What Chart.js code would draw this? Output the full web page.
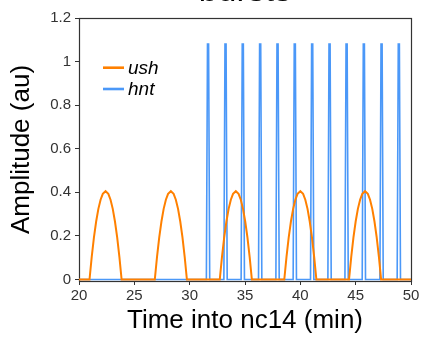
<!DOCTYPE html>
<html>
<head>
<meta charset="utf-8">
<script src="https://cdn.jsdelivr.net/npm/chart.js@4.4.0/dist/chart.umd.min.js"></script>
<style>
  html, body { margin: 0; padding: 0; background: #fff; }
  #wrap { width: 422px; height: 337px; position: relative; }
</style>
</head>
<body>
<div id="wrap"><canvas id="c" width="422" height="337"></canvas></div>
<script>
// ---- data ----
const titleText = "bursts";
const seriesNames = ["ush", "hnt"];
const xTickValues = [20, 25, 30, 35, 40, 45, 50];
const yTickValues = [0, 0.2, 0.4, 0.6, 0.8, 1, 1.2];
const yTickLabels = ["0", "0.2", "0.4", "0.6", "0.8", "1", "1.2"];

const ushTime = [20,
  20.95, 21.15, 21.35, 21.55, 21.75, 21.95, 22.15, 22.4, 22.65, 22.85, 23.05, 23.25, 23.45, 23.65, 23.85,
  26.85, 27.05, 27.25, 27.45, 27.65, 27.85, 28.05, 28.3, 28.55, 28.75, 28.95, 29.15, 29.35, 29.55, 29.75,
  32.72, 32.92, 33.12, 33.32, 33.52, 33.72, 33.92, 34.17, 34.42, 34.62, 34.82, 35.02, 35.22, 35.42, 35.62,
  38.55, 38.75, 38.95, 39.15, 39.35, 39.55, 39.75, 40.0, 40.25, 40.45, 40.65, 40.85, 41.05, 41.25, 41.45,
  44.4, 44.6, 44.8, 45.0, 45.2, 45.4, 45.6, 45.85, 46.1, 46.3, 46.5, 46.7, 46.9, 47.1, 47.3,
  50];
const ushAmp = [0,
  0, 0.104, 0.193, 0.266, 0.324, 0.366, 0.393, 0.405, 0.393, 0.366, 0.324, 0.266, 0.193, 0.104, 0,
  0, 0.104, 0.193, 0.266, 0.324, 0.366, 0.393, 0.405, 0.393, 0.366, 0.324, 0.266, 0.193, 0.104, 0,
  0, 0.104, 0.193, 0.266, 0.324, 0.366, 0.393, 0.405, 0.393, 0.366, 0.324, 0.266, 0.193, 0.104, 0,
  0, 0.104, 0.193, 0.266, 0.324, 0.366, 0.393, 0.405, 0.393, 0.366, 0.324, 0.266, 0.193, 0.104, 0,
  0, 0.104, 0.193, 0.266, 0.324, 0.366, 0.393, 0.405, 0.393, 0.366, 0.324, 0.266, 0.193, 0.104, 0,
  0];

const hntTime = [20,
  31.51, 31.61, 31.71, 31.81,
  33.09, 33.19, 33.29, 33.39,
  34.65, 34.75, 34.85, 34.95,
  36.22, 36.32, 36.42, 36.52,
  37.79, 37.89, 37.99, 38.09,
  39.35, 39.45, 39.55, 39.65,
  40.92, 41.02, 41.12, 41.22,
  42.49, 42.59, 42.69, 42.79,
  44.03, 44.13, 44.23, 44.33,
  45.59, 45.69, 45.79, 45.89,
  47.19, 47.29, 47.39, 47.49,
  48.75, 48.85, 48.95, 49.05,
  50];
const hntAmp = [0,
  0, 1.08, 1.08, 0,
  0, 1.08, 1.08, 0,
  0, 1.08, 1.08, 0,
  0, 1.08, 1.08, 0,
  0, 1.08, 1.08, 0,
  0, 1.08, 1.08, 0,
  0, 1.08, 1.08, 0,
  0, 1.08, 1.08, 0,
  0, 1.08, 1.08, 0,
  0, 1.08, 1.08, 0,
  0, 1.08, 1.08, 0,
  0, 1.08, 1.08, 0,
  0];

// ---- styling ----
const ORANGE = '#ff8000';
const BLUE = '#4b98f8';
const FONT = "'Liberation Sans', Arial, Helvetica, sans-serif";
const AXIS_COLOR = '#333333';

const framePlugin = {
  id: 'frame',
  beforeDatasetsDraw(chart) {
    const a = chart.chartArea, ctx = chart.ctx;
    ctx.save();
    ctx.strokeStyle = AXIS_COLOR;
    ctx.lineWidth = 1.2;
    ctx.strokeRect(a.left + 0.5, a.top + 0.5, a.right - a.left, a.bottom - a.top);
    ctx.restore();
  }
};

const legendPlugin = {
  id: 'insideLegend',
  afterDatasetsDraw(chart) {
    const ctx = chart.ctx;
    const a = chart.chartArea;
    const items = [
      { name: seriesNames[0], color: ORANGE, ly: 67.7, ty: 74 },
      { name: seriesNames[1], color: BLUE, ly: 89, ty: 94.5 }
    ];
    ctx.save();
    items.forEach(it => {
      ctx.strokeStyle = it.color;
      ctx.lineWidth = 2.6;
      ctx.beginPath();
      ctx.moveTo(a.left + 24, it.ly);
      ctx.lineTo(a.left + 45, it.ly);
      ctx.stroke();
      ctx.fillStyle = '#000';
      ctx.font = "italic 19px " + FONT;
      ctx.textBaseline = 'alphabetic';
      ctx.textAlign = 'left';
      ctx.fillText(it.name, a.left + 49, it.ty);
    });
    ctx.restore();
  }
};

const ushData = ushTime.map((t, i) => ({ x: t, y: ushAmp[i] }));
const hntData = hntTime.map((t, i) => ({ x: t, y: hntAmp[i] }));

new Chart(document.getElementById('c'), {
  type: 'line',
  data: {
    datasets: [
      { label: seriesNames[0], data: ushData, borderColor: ORANGE, borderWidth: 2, pointRadius: 0, tension: 0, fill: false },
      { label: seriesNames[1], data: hntData, borderColor: BLUE, borderWidth: 1.6, pointRadius: 0, tension: 0, fill: false }
    ]
  },
  options: {
    responsive: false,
    devicePixelRatio: 1,
    animation: false,
    layout: { padding: { left: 0, right: 11, top: 0, bottom: 0 } },
    plugins: {
      legend: { display: false },
      tooltip: { enabled: false },
      title: {
        display: true,
        text: titleText,
        fullSize: false,
        color: '#000',
        font: { family: FONT, size: 34, weight: 'normal', lineHeight: 1.2 },
        padding: { top: -29.2, bottom: 6.4 }
      }
    },
    scales: {
      x: {
        type: 'linear',
        min: 20, max: 50,
        afterFit(scale) { scale.height = 56; },
        afterBuildTicks(scale) { scale.ticks = xTickValues.map(v => ({ value: v })); },
        border: { display: false },
        grid: { display: true, drawOnChartArea: false, drawTicks: true, tickLength: 4, color: AXIS_COLOR, lineWidth: 1 },
        ticks: { color: AXIS_COLOR, padding: 2, font: { family: FONT, size: 15 }, maxRotation: 0, autoSkip: false,
                 callback: v => String(v) },
        title: { display: true, text: 'Time into nc14 (min)', color: '#000',
                 font: { family: FONT, size: 26, lineHeight: 1.2 }, padding: { top: 0, bottom: 0.5 } }
      },
      y: {
        type: 'linear',
        min: -0.007, max: 1.2,
        afterFit(scale) { scale.width = 79; },
        afterBuildTicks(scale) { scale.ticks = yTickValues.map(v => ({ value: v })); },
        border: { display: false },
        grid: { display: true, drawOnChartArea: false, drawTicks: true, tickLength: 4, color: AXIS_COLOR, lineWidth: 1 },
        ticks: { color: AXIS_COLOR, padding: 4, font: { family: FONT, size: 15 }, autoSkip: false,
                 callback: (v) => { const i = yTickValues.indexOf(v); return i >= 0 ? yTickLabels[i] : ''; } },
        title: { display: true, text: 'Amplitude (au)', color: '#000',
                 font: { family: FONT, size: 26, lineHeight: 1.2 }, padding: { top: 6.5, bottom: 0 } }
      }
    }
  },
  plugins: [framePlugin, legendPlugin]
});
</script>
</body>
</html>
